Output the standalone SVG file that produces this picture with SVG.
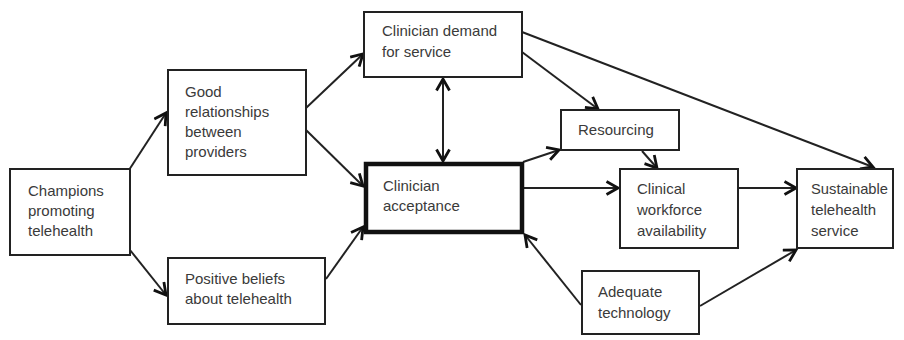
<svg xmlns="http://www.w3.org/2000/svg" width="904" height="340" viewBox="0 0 904 340">
<style>
.box{fill:#fff;stroke:#222;stroke-width:2}
.thick{fill:#fff;stroke:#111;stroke-width:4.5}
.t{font-family:"Liberation Sans",Arial,sans-serif;font-size:15px;fill:#3a3a3a}
.c{fill:none;stroke:#222;stroke-width:2}
</style>
<defs>
<marker id="arr" markerUnits="userSpaceOnUse" markerWidth="16" markerHeight="16" viewBox="0 0 16 16" refX="13" refY="8" orient="auto-start-reverse">
<path d="M1.5,1.5 L13,8 L1.5,14.5" fill="none" stroke="#111" stroke-width="2.8" stroke-linejoin="miter"/>
</marker>
</defs>
<rect width="904" height="340" fill="#fff"/>
<g id="connectors">
<line class="c" x1="129" y1="170" x2="166" y2="113" marker-end="url(#arr)"/>
<line class="c" x1="130" y1="250" x2="166" y2="295" marker-end="url(#arr)"/>
<line class="c" x1="306" y1="108" x2="363" y2="54" marker-end="url(#arr)"/>
<line class="c" x1="306" y1="130" x2="363" y2="186" marker-end="url(#arr)"/>
<line class="c" x1="326" y1="279" x2="363" y2="227" marker-end="url(#arr)"/>
<line class="c" x1="443" y1="79" x2="443" y2="161" marker-start="url(#arr)" marker-end="url(#arr)"/>
<line class="c" x1="522" y1="32" x2="873" y2="167" marker-end="url(#arr)"/>
<line class="c" x1="522" y1="52" x2="598" y2="109" marker-end="url(#arr)"/>
<line class="c" x1="523" y1="162" x2="559" y2="150" marker-end="url(#arr)"/>
<line class="c" x1="642" y1="151" x2="657" y2="168" marker-end="url(#arr)"/>
<line class="c" x1="524" y1="188" x2="618" y2="188" marker-end="url(#arr)"/>
<line class="c" x1="738" y1="188" x2="796" y2="188" marker-end="url(#arr)"/>
<line class="c" x1="581" y1="305" x2="525" y2="235" marker-end="url(#arr)"/>
<line class="c" x1="700" y1="306" x2="796" y2="250" marker-end="url(#arr)"/>
</g>
<g id="champions">
<rect class="box" x="10" y="169" width="120" height="86"/>
<text class="t" x="28" y="196">Champions</text>
<text class="t" x="28" y="216">promoting</text>
<text class="t" x="28" y="236">telehealth</text>
</g>
<g id="good-relationships">
<rect class="box" x="168" y="70" width="138" height="105"/>
<text class="t" x="185" y="97">Good</text>
<text class="t" x="185" y="117">relationships</text>
<text class="t" x="185" y="137">between</text>
<text class="t" x="185" y="157">providers</text>
</g>
<g id="positive-beliefs">
<rect class="box" x="168" y="258" width="157" height="66"/>
<text class="t" x="185" y="284">Positive beliefs</text>
<text class="t" x="185" y="304">about telehealth</text>
</g>
<g id="clinician-demand">
<rect class="box" x="364" y="12" width="158" height="65"/>
<text class="t" x="382" y="36">Clinician demand</text>
<text class="t" x="382" y="57">for service</text>
</g>
<g id="clinician-acceptance">
<rect class="thick" x="366" y="164" width="156" height="68"/>
<text class="t" x="383" y="191">Clinician</text>
<text class="t" x="383" y="211">acceptance</text>
</g>
<g id="resourcing">
<rect class="box" x="561" y="110" width="118" height="40"/>
<text class="t" x="578" y="135">Resourcing</text>
</g>
<g id="clinical-workforce">
<rect class="box" x="620" y="169" width="118" height="79"/>
<text class="t" x="637" y="194">Clinical</text>
<text class="t" x="637" y="215">workforce</text>
<text class="t" x="637" y="236">availability</text>
</g>
<g id="sustainable">
<rect class="box" x="797" y="169" width="96" height="79"/>
<text class="t" x="811" y="194" textLength="77" lengthAdjust="spacingAndGlyphs">Sustainable</text>
<text class="t" x="811" y="215">telehealth</text>
<text class="t" x="811" y="236">service</text>
</g>
<g id="adequate-technology">
<rect class="box" x="582" y="271" width="117" height="63"/>
<text class="t" x="598" y="297">Adequate</text>
<text class="t" x="598" y="318">technology</text>
</g>
</svg>
